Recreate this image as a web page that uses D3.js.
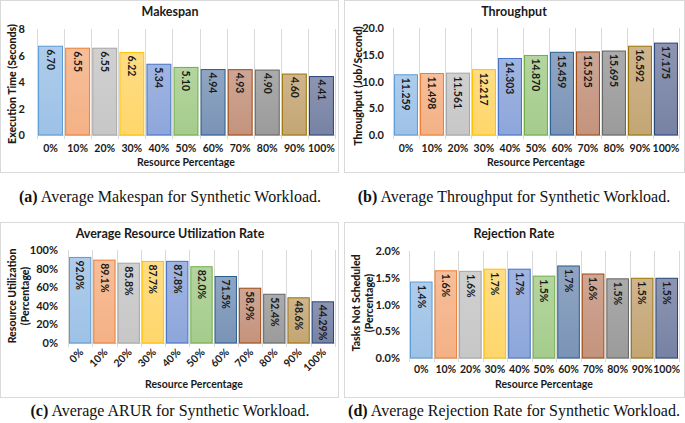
<!DOCTYPE html>
<html><head><meta charset="utf-8">
<script src="https://cdn.jsdelivr.net/npm/d3@7"></script>
<style>
body{margin:0;background:#fff;}
svg{display:block;}
</style></head>
<body>
<svg id="c" width="685" height="423"></svg>
<script>
// ---------- data ----------
const categories = ["0%","10%","20%","30%","40%","50%","60%","70%","80%","90%","100%"];

const makespan = [6.70,6.55,6.55,6.22,5.34,5.10,4.94,4.93,4.90,4.60,4.41];
const makespanLabels = ["6.70","6.55","6.55","6.22","5.34","5.10","4.94","4.93","4.90","4.60","4.41"];
const makespanTicks = [0,2,4,6,8];

const throughput = [11.259,11.498,11.561,12.217,14.303,14.870,15.459,15.525,15.695,16.592,17.175];
const throughputLabels = ["11.259","11.498","11.561","12.217","14.303","14.870","15.459","15.525","15.695","16.592","17.175"];
const throughputTicks = [0,5,10,15,20];

const utilization = [92.0,89.1,85.8,87.7,87.8,82.0,71.5,58.9,52.4,48.6,44.29];
const utilizationLabels = ["92.0%","89.1%","85.8%","87.7%","87.8%","82.0%","71.5%","58.9%","52.4%","48.6%","44.29%"];
const utilizationTicks = [0,20,40,60,80,100];

const rejection = [1.42,1.63,1.62,1.66,1.66,1.53,1.72,1.57,1.48,1.49,1.49];
const rejectionLabels = ["1.4%","1.6%","1.6%","1.7%","1.7%","1.5%","1.7%","1.6%","1.5%","1.5%","1.5%"];
const rejectionTicks = [0,0.5,1.0,1.5,2.0];

const fillColors   = ["#A3C5E8","#F5B58C","#CACACA","#FFD874","#93ABDD","#AACF92","#8199BA","#C79A86","#A0A0A0","#C8AA7E","#7E87A8"];
const strokeColors = ["#5B9BD5","#ED7D31","#A5A5A5","#FFC000","#4472C4","#70AD47","#255E91","#9E480E","#636363","#997300","#264478"];

const svg = d3.select("#c");
const FONT = "Lato, 'Open Sans', 'Liberation Sans', sans-serif";
const SERIF = "'Liberation Serif', 'DejaVu Serif', serif";
const FS = 10.5;

// gradients
const defs = svg.append("defs");
fillColors.forEach((c,i)=>{
  const g = defs.append("linearGradient").attr("id","g"+i).attr("x1",0).attr("y1",0).attr("x2",0).attr("y2",1);
  g.append("stop").attr("offset","0%").attr("stop-color", d3.interpolateRgb(c,"#fff")(0.12));
  g.append("stop").attr("offset","100%").attr("stop-color", d3.interpolateRgb(c,strokeColors[i])(0.08));
});

function panel(cfg){
  const g = svg.append("g");
  g.append("rect").attr("x",cfg.box[0]+0.5).attr("y",cfg.box[1]+0.5)
    .attr("width",cfg.box[2]).attr("height",cfg.box[3])
    .attr("fill","#fff").attr("stroke","#d9d9d9").attr("stroke-width",1);

  const x = d3.scaleBand().domain(categories).range([cfg.l,cfg.r]).paddingInner(0.08).paddingOuter(0.04);
  const y = d3.scaleLinear().domain(cfg.domain).range([cfg.b,cfg.t]);

  // vertical gridlines / tick marks at band boundaries
  const bounds = d3.range(categories.length+1).map(i=> cfg.l + i*(cfg.r-cfg.l)/categories.length);
  g.selectAll("line.grid").data(bounds).join("line")
    .attr("x1",d=>Math.round(d)+0.5).attr("x2",d=>Math.round(d)+0.5)
    .attr("y1",cfg.t).attr("y2",cfg.b+ (cfg.tickLen||4))
    .attr("stroke","#d9d9d9").attr("stroke-width",1);
  g.append("line").attr("x1",cfg.l).attr("x2",cfg.r)
    .attr("y1",Math.round(cfg.b)+0.5).attr("y2",Math.round(cfg.b)+0.5)
    .attr("stroke","#d9d9d9");

  // bars
  g.selectAll("rect.bar").data(cfg.values).join("rect")
    .attr("x",(d,i)=>x(categories[i])+0.5)
    .attr("y",d=>y(d))
    .attr("width",x.bandwidth()-1)
    .attr("height",d=>cfg.b - y(d))
    .attr("fill",(d,i)=>"url(#g"+i+")")
    .attr("stroke",(d,i)=>strokeColors[i]).attr("stroke-width",1);

  // bar labels rotated 90 (reading downward)
  g.selectAll("text.lbl").data(cfg.values).join("text")
    .attr("transform",(d,i)=>`translate(${x(categories[i])+x.bandwidth()/2},${y(d)+3}) rotate(90)`)
    .attr("dy","0.35em").attr("text-anchor","start")
    .attr("font-family",FONT).attr("font-weight","bold").attr("font-size",FS)
    .attr("fill","#1a1a1a")
    .text((d,i)=>cfg.labels[i]);

  // y axis tick labels
  const ya = d3.axisLeft(y).tickValues(cfg.ticks).tickFormat(cfg.fmt).tickSize(0).tickPadding(0);
  const ag = g.append("g").attr("transform",`translate(${cfg.yLabelX},0)`).call(ya);
  ag.select(".domain").remove();
  ag.selectAll("text").attr("font-family",FONT).attr("font-weight","bold").attr("font-size",FS+0.5).attr("fill","#1a1a1a");

  // x labels
  const xl = g.selectAll("text.xl").data(categories).join("text")
    .attr("font-family",FONT).attr("font-weight","bold").attr("font-size",FS).attr("fill","#1a1a1a")
    .text(d=>d);
  if(cfg.rotate){
    xl.attr("text-anchor","end")
      .attr("transform",d=>`translate(${x(d)+x.bandwidth()/2+4},${cfg.xLabelY}) rotate(-45)`);
  } else {
    xl.attr("text-anchor","middle").attr("x",d=>x(d)+x.bandwidth()/2).attr("y",cfg.xLabelY);
  }

  // x title
  g.append("text").attr("x",cfg.xTitleX).attr("y",cfg.xTitleY).attr("text-anchor","middle")
    .attr("font-family",FONT).attr("font-weight","bold").attr("font-size",FS).attr("fill","#1a1a1a")
    .text("Resource Percentage");

  // y title
  cfg.yTitle.forEach((t,k)=>{
    g.append("text").attr("transform",`translate(${cfg.yTitleX[k]},${cfg.yTitleY}) rotate(-90)`)
      .attr("text-anchor","middle").attr("dy","0.35em")
      .attr("font-family",FONT).attr("font-weight","900").attr("font-size",FS).attr("fill","#1a1a1a")
      .text(t);
  });

  // chart title
  g.append("text").attr("x",cfg.titleX).attr("y",cfg.titleY).attr("text-anchor","middle")
    .attr("font-family",FONT).attr("font-weight","bold").attr("font-size",12.5).attr("fill","#1a1a1a")
    .text(cfg.title);

  // caption
  const cap = svg.append("text").attr("x",cfg.capX).attr("y",cfg.capY).attr("text-anchor","middle")
    .attr("font-family",SERIF).attr("font-size",16).attr("fill","#111");
  cap.append("tspan").attr("font-weight","bold").text(cfg.capTag);
  cap.append("tspan").text(" "+cfg.caption);
}

panel({box:[0,0,338,172], l:37,r:335,t:29,b:135, domain:[0,8], ticks:makespanTicks, fmt:d3.format("d"),
  values:makespan, labels:makespanLabels, yLabelX:25, xLabelY:152, xTitleX:186, xTitleY:166,
  yTitle:["Execution Time (Seconds)"], yTitleX:[12], yTitleY:84,
  title:"Makespan", titleX:170, titleY:16, capX:170, capY:202, capTag:"(a)", caption:"Average Makespan for Synthetic Workload."});

panel({box:[344,0,340,172], l:393,r:679,t:28,b:135, domain:[0,20], ticks:throughputTicks, fmt:d3.format(".1f"),
  values:throughput, labels:throughputLabels, yLabelX:384, xLabelY:152, xTitleX:536, xTitleY:166,
  yTitle:["Throughput (Job/Second)"], yTitleX:[358], yTitleY:86,
  title:"Throughput", titleX:514, titleY:16, capX:514, capY:202, capTag:"(b)", caption:"Average Throughput for Synthetic Workload."});

panel({box:[0,222,338,175], l:68,r:335,t:250,b:343, domain:[0,100], ticks:utilizationTicks, fmt:d=>d+"%",
  values:utilization, labels:utilizationLabels, yLabelX:58, xLabelY:353, rotate:true, xTitleX:194, xTitleY:388,
  yTitle:["Resource Utilization","(Percentage)"], yTitleX:[12,25], yTitleY:296,
  title:"Average Resource Utilization Rate", titleX:170, titleY:238, capX:170, capY:416, capTag:"(c)", caption:"Average ARUR for Synthetic Workload."});

panel({box:[344,222,340,175], l:409,r:679,t:251,b:358, domain:[0,2], ticks:rejectionTicks, fmt:d=>d3.format(".1f")(d)+"%",
  values:rejection, labels:rejectionLabels, yLabelX:400, xLabelY:373, xTitleX:544, xTitleY:388,
  yTitle:["Tasks Not Scheduled","(Percentage)"], yTitleX:[356,369], yTitleY:303,
  title:"Rejection Rate", titleX:514, titleY:238, capX:514, capY:416, capTag:"(d)", caption:"Average Rejection Rate for Synthetic Workload."});
</script>
</body></html>
